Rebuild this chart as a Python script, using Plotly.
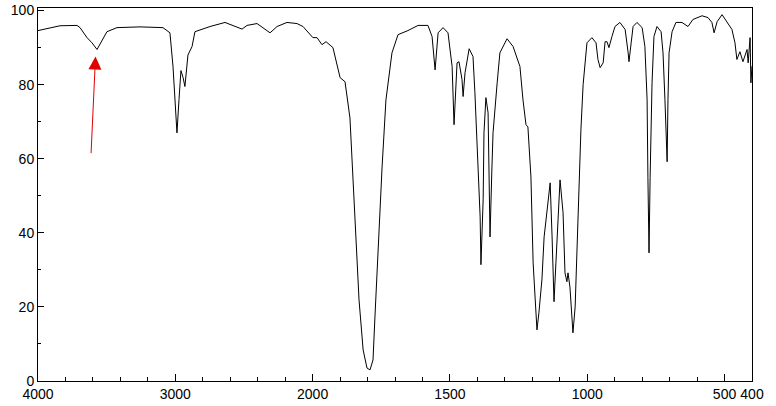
import numpy as np
import plotly.graph_objects as go

# IR spectrum (wavenumber cm-1, %T)
wavenumber = [4000, 3840, 3716, 3694, 3643, 3607, 3570, 3534, 3498, 3425, 3257, 3090,
              3039, 3017, 3002, 2988, 2973, 2959, 2944, 2930, 2908, 2878, 2857, 2747,
              2638, 2514, 2478, 2405, 2310, 2259, 2187, 2114, 2070, 1999, 1984, 1966,
              1951, 1926, 1900, 1882, 1864, 1853, 1842, 1831, 1816, 1802, 1791, 1780,
              1773, 1762, 1747, 1733, 1711, 1689, 1653, 1616, 1580, 1565, 1554, 1543,
              1525, 1507, 1492, 1485, 1474, 1467, 1456, 1452, 1445, 1430, 1416, 1409,
              1398, 1390, 1387, 1379, 1376, 1369, 1361, 1358, 1354, 1347, 1343, 1328,
              1318, 1292, 1270, 1245, 1234, 1223, 1216, 1205, 1201, 1197, 1190, 1183,
              1176, 1165, 1157, 1150, 1143, 1135, 1128, 1124, 1121, 1114, 1106, 1103,
              1099, 1088, 1081, 1074, 1070, 1063, 1055, 1052, 1044, 1037, 1030, 1023,
              1015, 1001, 983, 968, 961, 953, 942, 935, 928, 921, 910, 899,
              881, 862, 851, 848, 840, 833, 819, 800, 790, 782, 779, 775,
              771, 764, 757, 746, 731, 724, 717, 709, 706, 702, 691, 677,
              655, 633, 615, 582, 560, 546, 538, 527, 509, 491, 473, 462,
              455, 444, 433, 418, 414, 407, 404, 400]
transmittance = [94.6, 95.9, 96.0, 95.4, 92.7, 91.3, 89.5, 92.0, 94.3, 95.4, 95.6, 95.4,
                 94.0, 85.0, 74.0, 67.0, 76.0, 83.8, 82.0, 79.5, 88.0, 90.3, 94.3, 95.7,
                 96.8, 95.0, 96.0, 96.5, 94.0, 95.7, 96.8, 96.5, 95.7, 92.7, 92.7, 90.8,
                 91.6, 90.0, 81.9, 80.8, 71.0, 53.5, 35.4, 21.9, 8.4, 3.5, 3.0, 5.7,
                 17.3, 35.4, 57.8, 75.9, 88.6, 93.5, 94.6, 96.0, 96.0, 93.0, 84.0, 94.0,
                 95.4, 94.0, 84.9, 69.2, 85.9, 86.2, 81.4, 76.8, 83.2, 89.7, 87.6, 77.8,
                 57.8, 44.3, 31.4, 48.9, 67.0, 76.5, 72.4, 57.8, 38.9, 57.8, 67.0, 80.5,
                 88.6, 92.4, 90.3, 84.9, 75.9, 69.2, 68.6, 55.1, 45.4, 31.9, 22.7, 13.8,
                 18.4, 27.3, 38.9, 43.5, 48.1, 53.5, 38.9, 27.3, 21.4, 31.9, 43.5, 51.6,
                 54.3, 45.4, 29.2, 26.8, 29.2, 25.4, 16.5, 13.0, 20.0, 36.2, 54.3, 67.8,
                 80.0, 91.3, 92.7, 91.3, 86.8, 84.6, 85.9, 91.6, 91.6, 90.0, 93.0, 95.7,
                 96.8, 94.9, 88.6, 86.2, 91.3, 95.7, 96.8, 95.4, 90.3, 75.9, 55.0, 34.6,
                 55.0, 80.5, 93.0, 95.7, 94.3, 88.6, 75.9, 59.2, 75.9, 88.6, 94.3, 96.8,
                 96.8, 95.7, 97.6, 98.6, 98.1, 96.8, 94.0, 97.0, 98.9, 96.8, 94.9, 91.3,
                 86.8, 88.9, 86.2, 89.5, 85.9, 92.7, 80.5, 85.0]

major_ticks = [4000, 3000, 2000, 1500, 1000, 500, 400]
major_labels = ["4000", "3000", "2000", "1500", "1000", "500", "400"]
y_ticks = [0, 20, 40, 60, 80, 100]

# arrow marking the O-H band
arrow_tail = (3614, 61.1)
arrow_tip = (3581, 87.6)


def wn_to_u(wn):
    # x scale is compressed 2:1 above 2000 cm-1
    wn = np.asarray(wn, dtype=float)
    return np.where(wn >= 2000, (4000 - wn) / 2.0, 3000 - wn)


minor_vals = list(range(3800, 2000, -200)) + list(range(1900, 400, -100))
minor_vals = [v for v in minor_vals if v not in major_ticks]

fig = go.Figure()
fig.add_trace(go.Scatter(
    x=wn_to_u(wavenumber), y=transmittance, mode="lines",
    line=dict(color="black", width=1), showlegend=False, hoverinfo="skip"
))

fig.add_annotation(
    x=float(wn_to_u(arrow_tip[0])), y=arrow_tip[1],
    ax=float(wn_to_u(arrow_tail[0])), ay=arrow_tail[1],
    xref="x", yref="y", axref="x", ayref="y",
    text="", showarrow=True, arrowhead=2, arrowsize=2.6, arrowwidth=1,
    arrowcolor="#e00000"
)

font = dict(family="Liberation Sans, Arial, sans-serif", size=14, color="black")

fig.update_xaxes(
    range=[0, 2600], tickmode="array",
    tickvals=list(wn_to_u(major_ticks)), ticktext=major_labels, tickangle=0,
    ticks="inside", ticklen=7, tickcolor="black", tickwidth=1,
    minor=dict(tickmode="array", tickvals=list(wn_to_u(minor_vals)),
               ticks="inside", ticklen=4, tickcolor="black"),
    showline=True, linecolor="black", linewidth=1, mirror=True,
    showgrid=False, zeroline=False, tickfont=font, automargin=False
)
fig.update_yaxes(
    range=[0, 100.7], tickmode="array", tickvals=y_ticks,
    ticks="inside", ticklen=6, tickcolor="black", tickwidth=1,
    minor=dict(dtick=10, ticks="inside", ticklen=3, tickcolor="black"),
    showline=True, linecolor="black", linewidth=1, mirror=True,
    showgrid=False, zeroline=False, tickfont=font, automargin=False
)
fig.update_layout(
    width=776, height=406,
    margin=dict(l=38, r=24, t=8, b=25),
    paper_bgcolor="white", plot_bgcolor="white"
)

fig.write_html("out.html", config={"displayModeBar": False},
               post_script="document.body.style.margin='0';")
